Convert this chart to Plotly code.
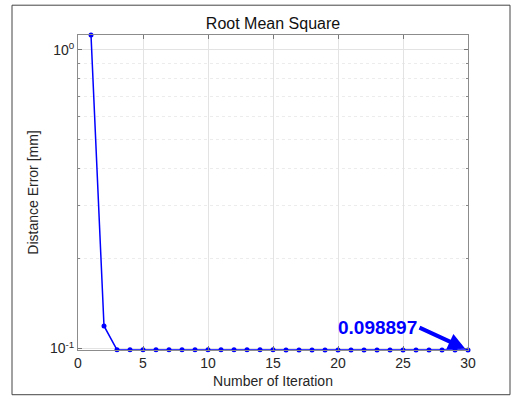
import plotly.graph_objects as go
import math

iterations = list(range(1, 31))
rms_error = [1.12, 0.119, 0.0990, 0.0990, 0.0990, 0.0990, 0.0990, 0.0990, 0.0990, 0.0990,
             0.0990, 0.0990, 0.0990, 0.0990, 0.0990, 0.0989, 0.0989, 0.0989, 0.0989, 0.0989,
             0.0989, 0.0989, 0.0989, 0.0989, 0.0989, 0.0989, 0.0989, 0.0989, 0.0989, 0.098897]
x_ticks = [0, 5, 10, 15, 20, 25, 30]
y_major = [0.1, 1]
y_major_text = ["10<sup>-1</sup>", "10<sup>0</sup>"]
y_minor = [0.2, 0.3, 0.4, 0.5, 0.6, 0.7, 0.8, 0.9]
final_label = "0.098897"

W, H = 513, 399
L, R, T, B = 78, 45, 35, 47
pw, ph = W - L - R, H - T - B

fig = go.Figure()
fig.add_trace(go.Scatter(
    x=iterations, y=rms_error, mode="lines+markers",
    line=dict(color="#0000FF", width=1.5),
    marker=dict(color="#0000FF", size=5),
    cliponaxis=False, showlegend=False))

font = "Liberation Sans, Arial, sans-serif"
fig.update_layout(
    width=W, height=H,
    margin=dict(l=L, r=R, t=T, b=B, pad=0),
    paper_bgcolor="white", plot_bgcolor="white",
    font=dict(family=font, size=14, color="#262626"),
    title=dict(text="Root Mean Square", x=(L + pw / 2) / W, xanchor="center",
               y=1 - 23 / H, yanchor="middle", font=dict(size=16, color="#111")),
    xaxis=dict(range=[0, 30], tickvals=x_ticks, ticks="inside", ticklen=4,
               tickcolor="#777", showline=True, linecolor="#8c8c8c", mirror="ticks",
               showgrid=True, gridcolor="#e3e3e3", zeroline=False,
               tickfont=dict(size=14, color="#262626"),
               title=dict(text="Number of Iteration", standoff=6, font=dict(size=14, color="#262626"))),
    yaxis=dict(type="log", range=[math.log10(min(rms_error)), math.log10(max(rms_error))],
               tickvals=y_major, ticktext=y_major_text, ticks="inside", ticklen=4,
               tickcolor="#777", showline=True, linecolor="#8c8c8c", mirror="ticks",
               showgrid=True, gridcolor="#e3e3e3", zeroline=False,
               tickfont=dict(size=14, color="#262626"),
               minor=dict(tickvals=y_minor, ticks="inside", ticklen=2, tickcolor="#888",
                          showgrid=True, gridcolor="#ececec", griddash="dot"),
               title=dict(text="Distance Error [mm]", standoff=8, font=dict(size=14, color="#262626"))),
)

# label text
fig.add_annotation(
    x=iterations[-1], y=math.log10(rms_error[-1]), xref="x", yref="y",
    text="<b>" + final_label + "</b>", showarrow=True, arrowcolor="rgba(0,0,0,0)",
    ax=-91, ay=-23, arrowwidth=0.1,
    font=dict(family=font, size=19, color="#0000FF"))
# arrow
fig.add_annotation(
    x=iterations[-1], y=math.log10(rms_error[-1]), xref="x", yref="y",
    text="", showarrow=True,
    ax=-50, ay=-23, arrowhead=2, arrowsize=0.85, arrowwidth=4, arrowcolor="#0000FF",
    standoff=3)

fig.add_shape(type="rect", xref="paper", yref="paper",
              x0=(12 - L) / pw, x1=(510 - L) / pw,
              y0=(H - B - 397) / ph, y1=(H - B - 5) / ph,
              line=dict(color="#444", width=1), fillcolor="rgba(0,0,0,0)", layer="below")

fig.write_html("out.html", config={"displayModeBar": False},
               post_script="document.body.style.margin='0';document.body.style.overflow='hidden';")
